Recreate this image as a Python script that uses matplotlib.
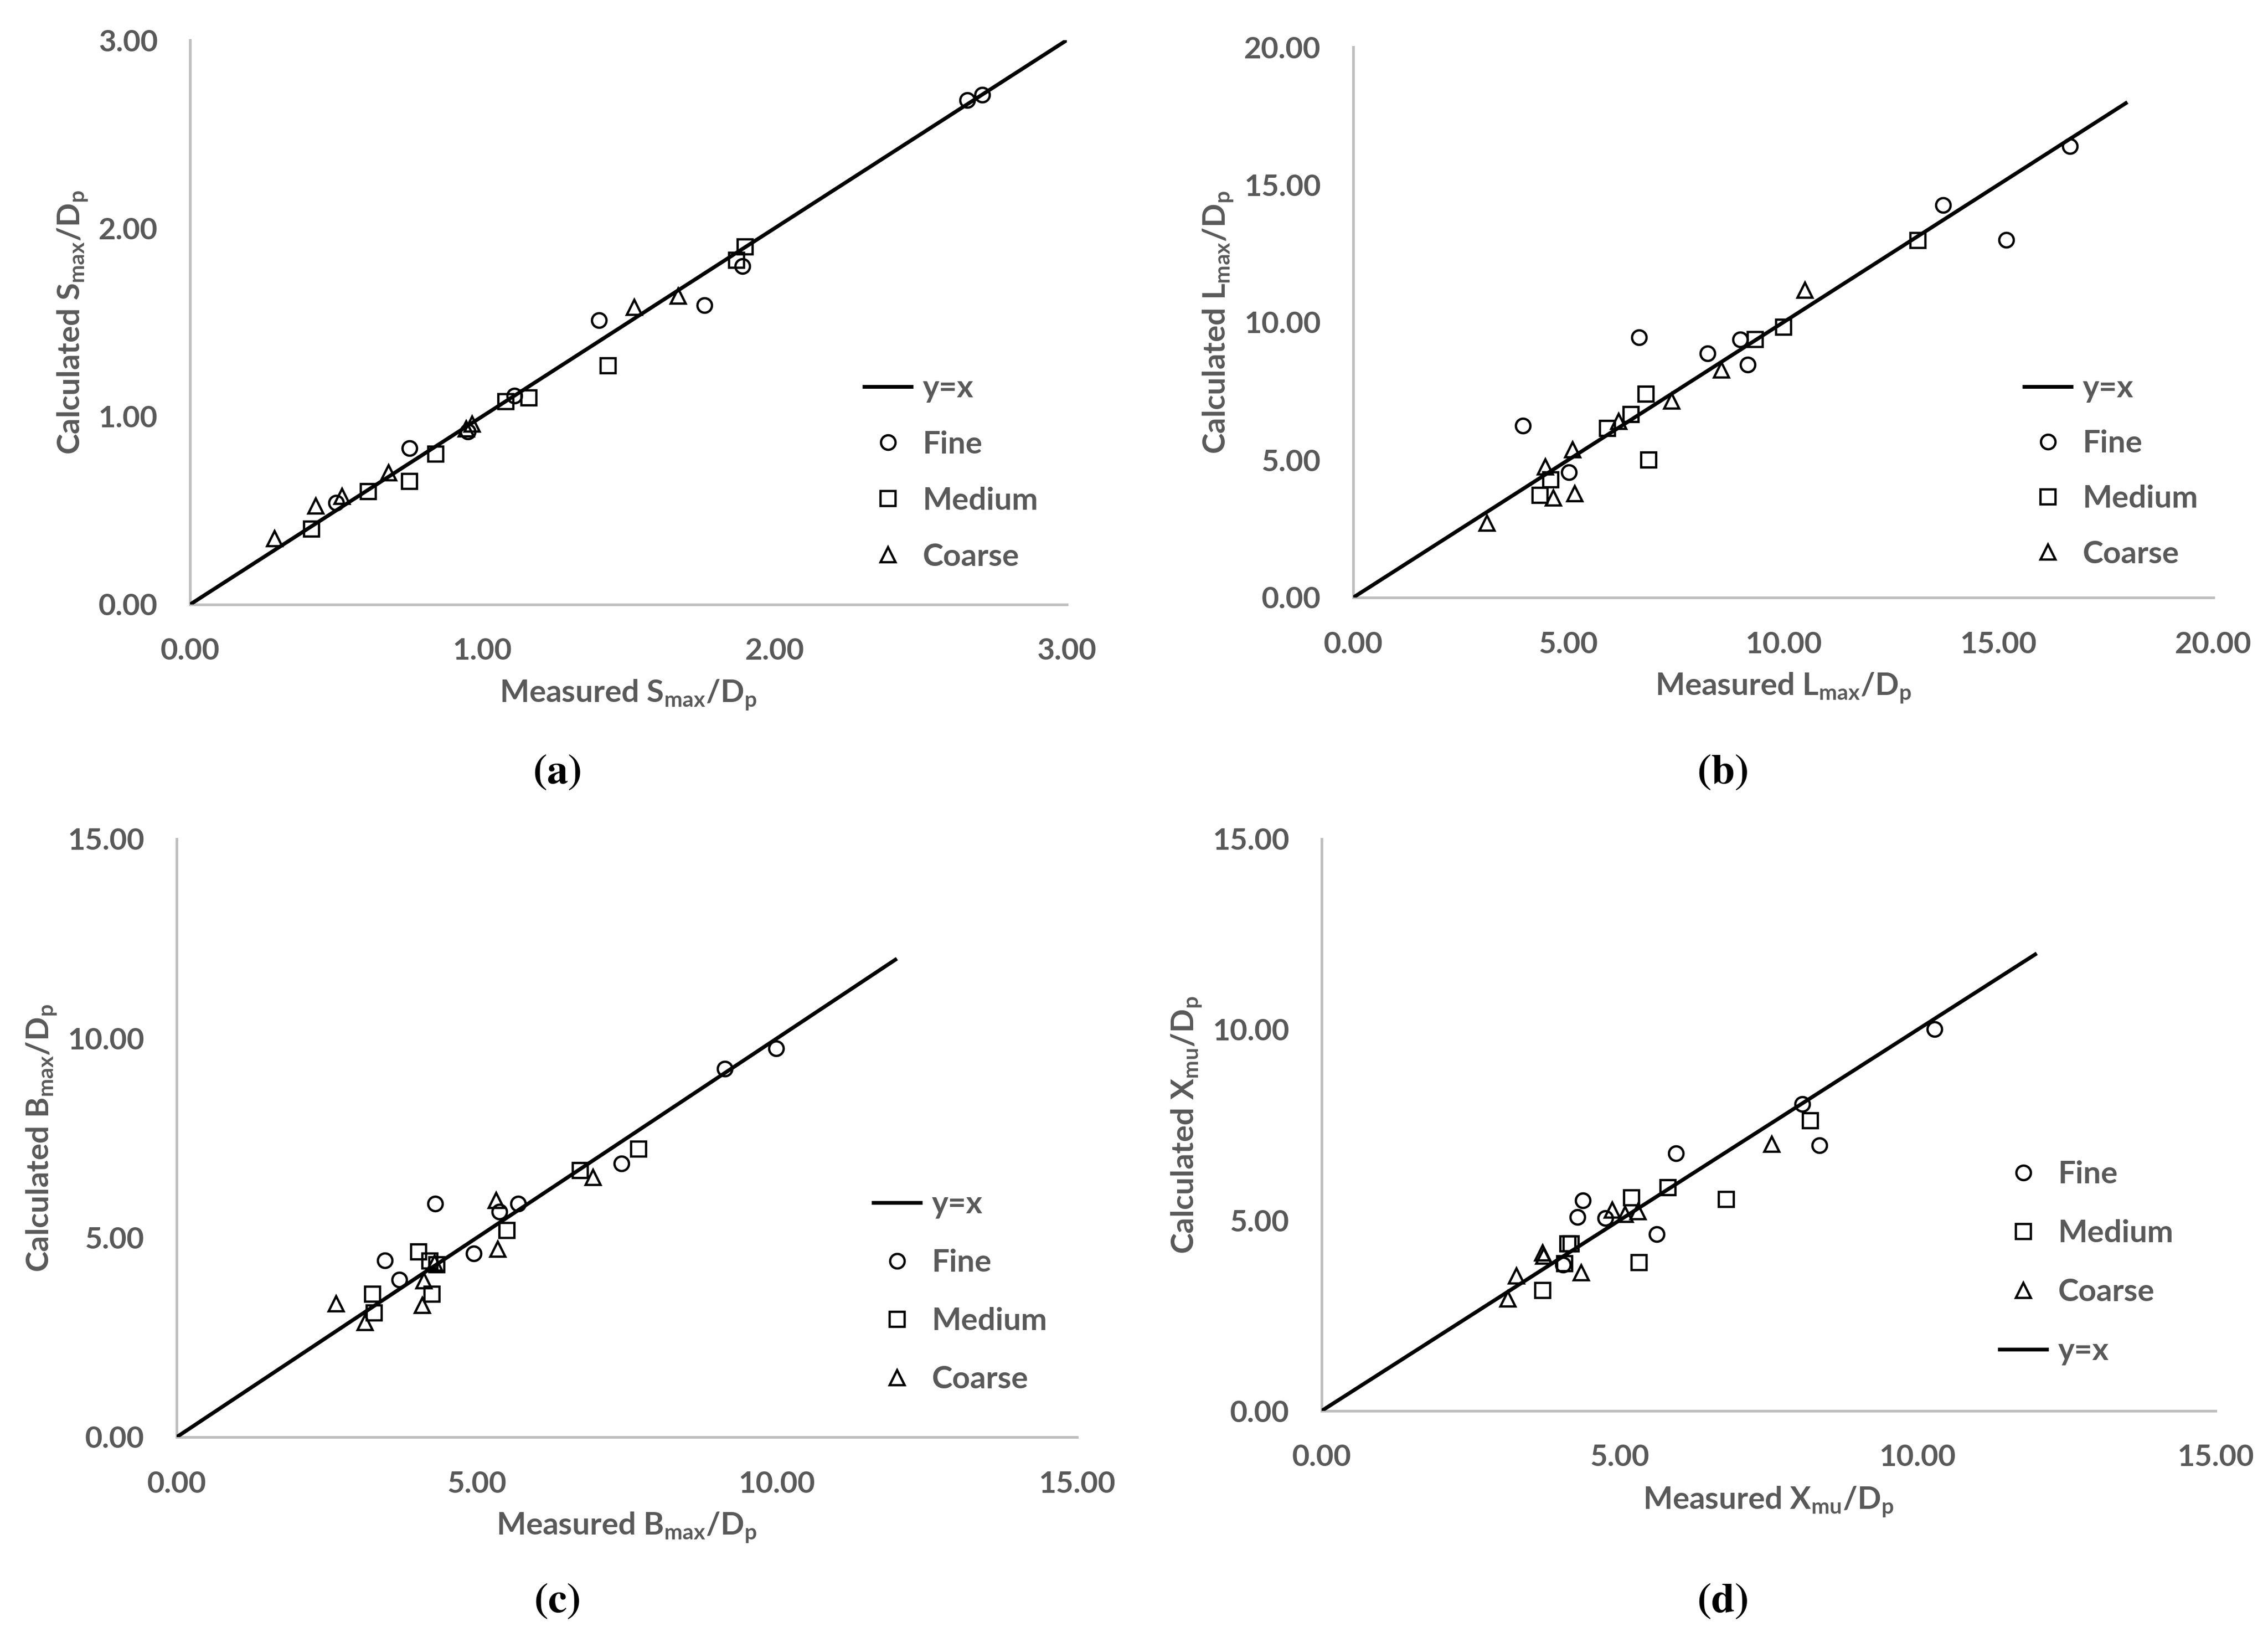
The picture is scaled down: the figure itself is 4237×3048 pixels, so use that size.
import matplotlib

matplotlib.use("Agg")

import matplotlib.pyplot as plt

W_PX, H_PX, DPI = 4237, 3048, 300

TEXT_GREY = "#595959"
AXIS_GREY = "#bfbfbf"

# (a) S_max / D_p  -- measured, calculated
A_FINE_X = [0.50, 0.75, 0.95, 1.11, 1.40, 1.76, 1.89, 2.66, 2.71]
A_FINE_Y = [0.54, 0.83, 0.92, 1.11, 1.51, 1.59, 1.80, 2.68, 2.71]
A_MED_X = [0.415, 0.61, 0.75, 0.84, 1.08, 1.16, 1.43, 1.87, 1.90]
A_MED_Y = [0.40, 0.60, 0.655, 0.80, 1.08, 1.10, 1.27, 1.83, 1.90]
A_COARSE_X = [0.29, 0.43, 0.52, 0.68, 0.945, 0.965, 1.52, 1.67]
A_COARSE_Y = [0.35, 0.525, 0.575, 0.70, 0.935, 0.96, 1.58, 1.64]

# (b) L_max / D_p
B_FINE_X = [3.95, 5.02, 6.64, 8.24, 9.00, 9.17, 13.71, 15.18, 16.67]
B_FINE_Y = [6.25, 4.55, 9.46, 8.88, 9.38, 8.46, 14.27, 13.00, 16.40]
B_MED_X = [4.34, 4.59, 5.91, 6.46, 6.81, 6.87, 9.35, 10.00, 13.13]
B_MED_Y = [3.72, 4.28, 6.15, 6.65, 7.39, 5.00, 9.38, 9.83, 12.97]
B_COARSE_X = [3.11, 4.47, 4.66, 5.10, 5.15, 6.17, 7.41, 8.56, 10.50]
B_COARSE_Y = [2.71, 4.75, 3.62, 5.37, 3.78, 6.41, 7.14, 8.27, 11.17]

# (c) B_max / D_p
C_FINE_X = [3.47, 3.71, 4.31, 4.95, 5.38, 5.69, 7.41, 9.13, 9.99]
C_FINE_Y = [4.43, 3.95, 5.85, 4.60, 5.65, 5.85, 6.86, 9.24, 9.75]
C_MED_X = [3.26, 3.29, 4.03, 4.22, 4.33, 4.25, 5.50, 6.72, 7.70]
C_MED_Y = [3.59, 3.12, 4.64, 4.42, 4.33, 3.59, 5.18, 6.69, 7.22]
C_COARSE_X = [2.66, 3.14, 4.09, 4.12, 4.30, 5.32, 5.35, 6.94]
C_COARSE_Y = [3.34, 2.88, 3.30, 3.92, 4.36, 5.94, 4.71, 6.51]

# (d) X_mu / D_p
D_FINE_X = [4.05, 4.29, 4.38, 4.76, 5.62, 5.95, 8.07, 8.35, 10.28]
D_FINE_Y = [3.84, 5.08, 5.52, 5.06, 4.63, 6.76, 8.05, 6.97, 10.02]
D_MED_X = [3.71, 4.08, 4.13, 4.19, 5.20, 5.33, 5.81, 6.79, 8.20]
D_MED_Y = [3.16, 3.86, 4.38, 4.38, 5.59, 3.89, 5.85, 5.55, 7.61]
D_COARSE_X = [3.13, 3.27, 3.71, 3.73, 4.36, 4.88, 5.09, 5.31, 7.55]
D_COARSE_Y = [2.93, 3.54, 4.14, 4.06, 3.63, 5.27, 5.15, 5.22, 6.99]

AXIS_MAX = [3.0, 20.0, 15.0, 15.0]
TICK_STEP = [1.0, 5.0, 5.0, 5.0]
LINE_END = [3.0, 18.0, 12.0, 12.0]
QUANTITIES = ["S", "L", "B", "X"]
SUBSCRIPTS = ["max", "max", "max", "mu"]
CAPTIONS = ["a", "b", "c", "d"]

# layout in pixels of the reference: axes (left, bottom, right, top),
# legend (left, top, labelspacing), caption centre
AXES_PX = [
    (355, 1129, 1993, 75),
    (2528, 1116, 4135, 88),
    (330, 2684, 2012, 1567),
    (2469, 2635, 4139, 1567),
]
LEGEND_PX = [
    (1611, 699, 0.89),
    (3778, 699, 0.86),
    (1628, 2223, 0.96),
    (3732, 2167, 0.98),
]
CAPTION_PX = [(1040, 1442), (3218, 1442), (1040, 2990), (3218, 2990)]

plt.rcParams.update(
    {
        "font.family": ["Lato", "DejaVu Sans"],
        "font.weight": "bold",
        "axes.labelweight": "bold",
        "mathtext.fontset": "custom",
        "mathtext.rm": "Lato:bold",
        "mathtext.it": "Lato:bold",
        "mathtext.bf": "Lato:bold",
        "text.color": TEXT_GREY,
    }
)

MARKER_KW = dict(
    linestyle="none",
    markersize=6.5,
    markerfacecolor="none",
    markeredgecolor="black",
    markeredgewidth=1.05,
)


def px_axes(fig, left, bottom, right, top):
    return fig.add_axes(
        [left / W_PX, 1 - bottom / H_PX, (right - left) / W_PX, (bottom - top) / H_PX]
    )


def main() -> None:
    fig = plt.figure(figsize=(W_PX / DPI, H_PX / DPI), dpi=DPI)

    panels = [
        (A_FINE_X, A_FINE_Y, A_MED_X, A_MED_Y, A_COARSE_X, A_COARSE_Y),
        (B_FINE_X, B_FINE_Y, B_MED_X, B_MED_Y, B_COARSE_X, B_COARSE_Y),
        (C_FINE_X, C_FINE_Y, C_MED_X, C_MED_Y, C_COARSE_X, C_COARSE_Y),
        (D_FINE_X, D_FINE_Y, D_MED_X, D_MED_Y, D_COARSE_X, D_COARSE_Y),
    ]

    for i, (fx, fy, mx, my, cx, cy) in enumerate(panels):
        ax = px_axes(fig, *AXES_PX[i])
        top = AXIS_MAX[i]
        end = LINE_END[i]

        (line,) = ax.plot([0, end], [0, end], color="black", lw=1.7,
                          solid_capstyle="butt", zorder=3, label="y=x")
        fine = ax.plot(fx, fy, marker="o", label="Fine", zorder=4, **MARKER_KW)[0]
        med = ax.plot(mx, my, marker="s", label="Medium", zorder=4, **MARKER_KW)[0]
        coarse = ax.plot(cx, cy, marker="^", label="Coarse", zorder=4, **MARKER_KW)[0]

        ax.set_xlim(0, top)
        ax.set_ylim(0, top)
        ticks = [TICK_STEP[i] * k for k in range(int(top / TICK_STEP[i]) + 1)]
        ax.set_xticks(ticks)
        ax.set_yticks(ticks)
        ax.set_xticklabels([f"{t:.2f}" for t in ticks])
        ax.set_yticklabels([f"{t:.2f}" for t in ticks])
        ax.tick_params(axis="x", length=0, pad=15, labelsize=13.5, labelcolor=TEXT_GREY)
        ax.tick_params(axis="y", length=0, pad=14.5, labelsize=13.5, labelcolor=TEXT_GREY)
        for side in ("top", "right"):
            ax.spines[side].set_visible(False)
        for side in ("left", "bottom"):
            ax.spines[side].set_color(AXIS_GREY)
            ax.spines[side].set_linewidth(1.2)
        ax.patch.set_visible(False)

        q, sub = QUANTITIES[i], SUBSCRIPTS[i]
        ax.set_xlabel(f"Measured {q}$_{{\\mathrm{{{sub}}}}}$/D$_{{\\mathrm{{p}}}}$",
                      fontsize=14, fontweight="bold", color=TEXT_GREY, labelpad=6)
        ax.set_ylabel(f"Calculated {q}$_{{\\mathrm{{{sub}}}}}$/D$_{{\\mathrm{{p}}}}$",
                      fontsize=14, fontweight="bold", color=TEXT_GREY, labelpad=4)

        if i == 3:
            handles = [fine, med, coarse, line]
        else:
            handles = [line, fine, med, coarse]
        lx, ly, spacing = LEGEND_PX[i]
        ax.legend(
            handles=handles,
            loc="upper left",
            bbox_to_anchor=(lx / W_PX, 1 - ly / H_PX),
            bbox_transform=fig.transFigure,
            frameon=False,
            prop={"size": 14, "weight": "bold"},
            labelcolor=TEXT_GREY,
            borderpad=0,
            borderaxespad=0,
            handlelength=1.63,
            handletextpad=0.3,
            labelspacing=spacing,
        )

        cxp, cyp = CAPTION_PX[i]
        fig.text(cxp / W_PX, 1 - cyp / H_PX, f"$(\\mathbf{{{CAPTIONS[i]}}})$",
                 math_fontfamily="stix", fontsize=19, color="black",
                 ha="center", va="center")

    fig.savefig("out.png", dpi=DPI)
    plt.close(fig)


if __name__ == "__main__":
    main()
